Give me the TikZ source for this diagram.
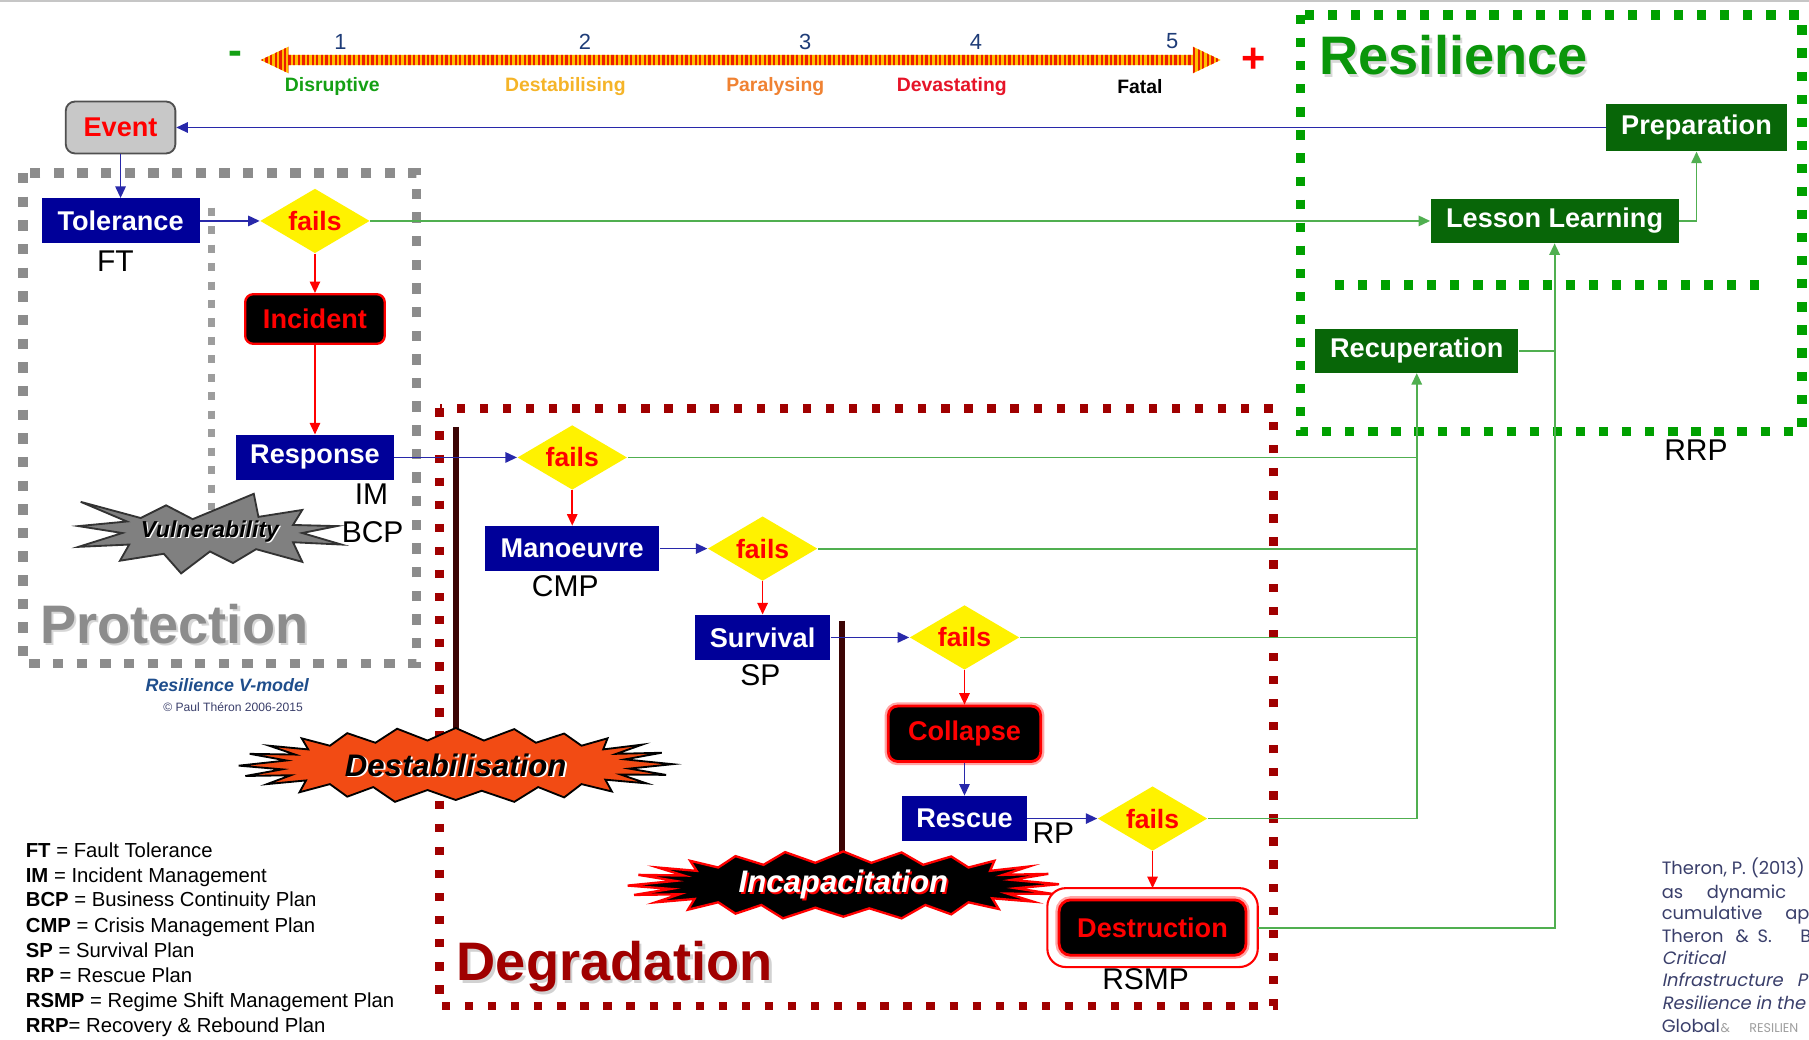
\documentclass[tikz,border=0pt]{standalone}
\usepackage{fontspec}
\setmainfont{Liberation Sans}
\newfontfamily\citefont{Poppins}
\newfontfamily\citefontit{Poppins}[FakeSlant=0.2]
\usetikzlibrary{arrows.meta,shapes.geometric}

\definecolor{boxblue}{RGB}{0,0,153}
\definecolor{boxgreen}{RGB}{8,102,8}
\definecolor{linegreen}{RGB}{80,175,80}
\definecolor{lineblue}{RGB}{40,40,170}
\definecolor{resgreen}{RGB}{0,160,0}
\definecolor{restitle}{RGB}{10,150,10}
\definecolor{degred}{RGB}{160,0,0}
\definecolor{protgray}{RGB}{140,140,140}
\definecolor{barmaroon}{RGB}{60,5,5}
\definecolor{burstorange}{RGB}{242,75,20}
\definecolor{burstgray}{RGB}{128,128,128}
\definecolor{evgray}{RGB}{200,200,200}
\definecolor{evedge}{RGB}{80,80,80}
\definecolor{numblue}{RGB}{30,60,120}
\definecolor{sevgreen}{RGB}{20,160,20}
\definecolor{sevyellow}{RGB}{245,180,40}
\definecolor{sevorange}{RGB}{240,130,50}
\definecolor{sevred}{RGB}{230,20,40}
\definecolor{stripeyellow}{RGB}{255,190,0}
\definecolor{stripered}{RGB}{235,30,0}
\definecolor{citeblue}{RGB}{58,63,107}
\definecolor{vmodel}{RGB}{31,78,140}

\newcommand\bxf{\fontsize{11.75}{14}\selectfont\bfseries}

\tikzset{
  bluebox/.style={fill=boxblue, text=white, font=\bxf, minimum height=19.5pt, inner sep=0pt},
  greenbox/.style={fill=boxgreen, text=white, font=\bxf, minimum height=19pt, inner sep=0pt},
  evbox/.style={fill=evgray, draw=evedge, line width=0.8pt, rounded corners=4pt, text=red,
    font=\bxf, minimum width=47.5pt, minimum height=22.5pt, inner sep=0pt},
  incbox/.style={fill=black, draw=red, line width=1pt, rounded corners=3.5pt, text=red,
    font=\bxf, minimum width=60.5pt, minimum height=21.5pt, inner sep=0pt},
  collbox/.style={fill=black, draw=red, line width=1.2pt, rounded corners=4pt, text=red,
    font=\bxf, minimum width=66pt, minimum height=24pt, inner sep=0pt,
    preaction={draw=red!35, line width=3.2pt}},
  destbox/.style={fill=black, draw=red, line width=1.2pt, rounded corners=5pt, text=red,
    font=\bxf, minimum width=81pt, minimum height=24pt, inner sep=0pt,
    preaction={draw=red!35, line width=3.2pt}},
  failsd/.style={diamond, aspect=1.7, fill=yellow, text=red,
    font=\fontsize{11.5}{13}\selectfont\bfseries, minimum width=47.5pt, minimum height=28pt, inner sep=0pt},
  plan/.style={font=\fontsize{13}{15}\selectfont, inner sep=0pt},
  ttl/.style={font=\fontsize{23.5}{28}\selectfont\bfseries, inner sep=0pt},
  sevlbl/.style={font=\fontsize{8.4}{10}\selectfont\bfseries, inner sep=0pt},
  numlbl/.style={font=\fontsize{9.5}{11}\selectfont, text=numblue, inner sep=0pt},
  legend/.style={font=\fontsize{8.8}{10}\selectfont, anchor=base west, inner sep=0pt},
  cite/.style={font=\citefont\fontsize{7.75}{9}\selectfont, text=citeblue, anchor=base west, inner sep=0pt},
  citeit/.style={font=\citefontit\fontsize{7.75}{9}\selectfont, text=citeblue, anchor=base west, inner sep=0pt},
  bursttext/.style={font=\fontsize{13.5}{16}\selectfont\bfseries\itshape, inner sep=0pt},
  tip/.style={-{Triangle[length=5pt,width=4.5pt]}},
  barrow/.style={draw=lineblue, line width=0.7pt, tip},
  rarrow/.style={draw=red, line width=0.7pt, tip},
  garrow/.style={draw=linegreen, line width=0.8pt, tip},
  gline/.style={draw=linegreen, line width=0.8pt},
  protdash/.style={draw=protgray, line width=4pt, dash pattern=on 4.5pt off 5.75pt},
  protinner/.style={draw=protgray!85, line width=3pt, dash pattern=on 3.5pt off 4.5pt},
  resdash/.style={draw=resgreen, line width=4pt, dash pattern=on 4pt off 6pt},
  degdash/.style={draw=degred, line width=3.8pt, dash pattern=on 3.6pt off 6.4pt},
  barline/.style={draw=barmaroon, line width=2.5pt},
  burstwide/.pic={
    \path[pic actions] (0,-1) -- (0.13,-0.66) -- (0.27,-0.97) -- (0.37,-0.6) -- (0.5,-0.85)
      -- (0.58,-0.52) -- (0.7,-0.72) -- (0.68,-0.42) -- (0.86,-0.55) -- (0.74,-0.3)
      -- (0.95,-0.33) -- (0.78,-0.15) -- (1,-0.02) -- (0.8,0.1) -- (0.97,0.27) -- (0.76,0.26)
      -- (0.88,0.5) -- (0.69,0.4) -- (0.72,0.72) -- (0.58,0.52) -- (0.5,0.88) -- (0.38,0.6)
      -- (0.27,1) -- (0.12,0.7) -- (0,0.95) -- (-0.13,0.68) -- (-0.28,1) -- (-0.38,0.6)
      -- (-0.5,0.86) -- (-0.58,0.52) -- (-0.72,0.74) -- (-0.69,0.42) -- (-0.87,0.52)
      -- (-0.76,0.28) -- (-0.97,0.3) -- (-0.8,0.12) -- (-1,0.02) -- (-0.78,-0.12)
      -- (-0.95,-0.3) -- (-0.74,-0.28) -- (-0.86,-0.52) -- (-0.68,-0.42) -- (-0.71,-0.72)
      -- (-0.58,-0.52) -- (-0.5,-0.86) -- (-0.37,-0.6) -- (-0.27,-0.98) -- (-0.13,-0.66) -- cycle;
  },
  burstsmall/.pic={
    \path[pic actions] (-112,-27) -- (-60,-13) -- (-38,-24) -- (-15,-12) -- (38,-34) -- (42,-14)
      -- (80,-20) -- (72,-7) -- (110,-6) -- (80,0) -- (114,10) -- (72,8) -- (80,25) -- (40,14)
      -- (20,26) -- (0,16) -- (-25,35) -- (-40,18) -- (-78,24) -- (-70,10) -- (-114,12)
      -- (-76,0) -- (-114,-6) -- (-72,-10) -- cycle;
  }
}

\begin{document}
\begin{tikzpicture}[x=0.5pt,y=-0.5pt]
\useasboundingbox (0,0) rectangle (1568,901);
\fill[white] (0,0) rectangle (1568,901);
\draw[gray!45, line width=1pt] (0,0.8) -- (1568,0.8);

% ---------- severity scale ----------
\begin{scope}
  \clip (226,52) -- (250,40.5) -- (250,47.5) -- (1034,47.5) -- (1034,40.5) -- (1058,52)
        -- (1034,63.5) -- (1034,56.5) -- (250,56.5) -- (250,63.5) -- cycle;
  \fill[stripeyellow] (220,35) rectangle (1065,70);
  \foreach \xx in {227,231,...,1059} \draw[stripered, line width=1pt] (\xx,35) -- (\xx,70);
\end{scope}
\node[font=\fontsize{18}{20}\selectfont\bfseries, text=sevgreen, inner sep=0pt] (minus) at (204,50) {-};
\node[font=\fontsize{18}{20}\selectfont\bfseries, text=red, inner sep=0pt] (plus) at (1087,52) {+};
\node[numlbl] (n1) at (295,36) {1};
\node[numlbl] (n2) at (507,36) {2};
\node[numlbl] (n3) at (698,36) {3};
\node[numlbl] (n4) at (846,36) {4};
\node[numlbl] (n5) at (1016,36) {5};
\node[sevlbl, text=sevgreen] (s1) at (288,75) {Disruptive};
\node[sevlbl, text=sevyellow] (s2) at (490,75) {Destabilising};
\node[sevlbl, text=sevorange] (s3) at (672,75) {Paralysing};
\node[sevlbl, text=sevred] (s4) at (825,75) {Devastating};
\node[sevlbl, text=black] (s5) at (988,75) {Fatal};

% ---------- zone frames ----------
\draw[protdash] (20,150) rectangle (361,575);
\draw[protinner] (183,180) -- (183,442);
\draw[resdash] (1127,13) rectangle (1562,374);
\draw[resdash] (1157,247) -- (1535,247);
\draw[degdash] (381,354) rectangle (1104,872);

\node[ttl, text=protgray!35] (protsh) at (153,543) {Protection};
\node[ttl, text=protgray] (prot) at (151,541) {Protection};
\node[ttl, text=gray!30] (ressh) at (1262,50) {Resilience};
\node[ttl, text=restitle] (res) at (1260,48) {Resilience};
\node[ttl, text=gray!35] (degsh) at (535,840) {Degradation};
\node[ttl, text=degred] (deg) at (533,838) {Degradation};

% ---------- impact bars and bursts ----------
\coordinate (bar1top) at (395,370);
\coordinate (bar2top) at (730,538);
\node[bursttext, text=black] (destab) at (395,663) {\phantom{Destabilisation}};
\node[bursttext, text=black] (incap) at (731,767) {\phantom{Incapacitation}};
\draw[barline] (bar1top) -- (bar1top |- destab.center);
\draw[barline] (bar2top) -- (bar2top |- incap.center);

\pic[xscale=188, yscale=32, fill=burstorange, draw=black, line width=0.8pt] at (destab.center) {burstwide};
\pic[xscale=187, yscale=29, fill=black, draw=red, line width=1pt] at (incap.center) {burstwide};
\pic[fill=burstgray, draw=black!80, line width=0.8pt] at (182,462) {burstsmall};

\node[bursttext, text=white] (destabsh) at ([shift={(0.8pt,-0.8pt)}]destab.center) {Destabilisation};
\node[bursttext, text=black] (destabtxt) at (destab.center) {Destabilisation};
\node[bursttext, text=red] (incapsh) at ([shift={(0.8pt,-0.8pt)}]incap.center) {Incapacitation};
\node[bursttext, text=white] (incaptxt) at (incap.center) {Incapacitation};
\node[font=\fontsize{10}{12}\selectfont\bfseries\itshape, text=white, inner sep=0pt] (vulnsh) at (183,462) {Vulnerability};
\node[font=\fontsize{10}{12}\selectfont\bfseries\itshape, text=black, inner sep=0pt] (vuln) at (182,461) {Vulnerability};

% ---------- process nodes ----------
\node[evbox] (event) at (104.5,110.5) {Event};
\node[bluebox, minimum width=68.5pt] (tol) at (104.5,191.5) {Tolerance};
\node[failsd] (f1) at (273,191.5) {fails};
\node[incbox] (inc) at (273,276.5) {Incident};
\node[bluebox, minimum width=68.5pt] (resp) at (273,396.5) {Response};
\node[failsd] (f2) at (496,396.5) {fails};
\node[bluebox, minimum width=75.5pt] (man) at (496,475.5) {Manoeuvre};
\node[failsd] (f3) at (661,475.5) {fails};
\node[bluebox, minimum width=58.5pt] (surv) at (661,552.5) {Survival};
\node[failsd] (f4) at (836,552.5) {fails};
\node[collbox] (coll) at (836,636) {Collapse};
\node[bluebox, minimum width=54pt] (resc) at (836,709.5) {Rescue};
\node[failsd] (f5) at (999,709.5) {fails};
\node[destbox] (dest) at (999,804) {Destruction};
\draw[red, line width=0.9pt, rounded corners=8pt]
  ([shift={(-4.5pt,4.5pt)}]dest.north west) rectangle ([shift={(4.5pt,-4.5pt)}]dest.south east);
\node[greenbox, minimum width=88pt] (recup) at (1228,304) {Recuperation};
\node[greenbox, minimum width=107.5pt] (ll) at (1347.5,191.5) {Lesson Learning};
\node[greenbox, minimum width=78.5pt, minimum height=20.5pt] (prep) at (1470.5,110.5) {Preparation};

% ---------- plan labels ----------
\node[plan] (ft) at (100,226) {FT};
\node[plan] (im) at (322,428) {IM};
\node[plan] (bcp) at (323,461) {BCP};
\node[plan] (cmp) at (490,508) {CMP};
\node[plan] (sp) at (659,585) {SP};
\node[plan] (rp) at (913,722) {RP};
\node[plan] (rsmp) at (993,849) {RSMP};
\node[plan] (rrp) at (1470,390) {RRP};

% ---------- connectors ----------
\draw[barrow] (prep.west) -- (event.east);
\draw[barrow] (event.south) -- (tol.north);
\draw[barrow] (tol.east) -- (f1.west);
\draw[garrow] (f1.east) -- (ll.west);
\draw[rarrow] (f1.south) -- (inc.north);
\draw[rarrow] (inc.south) -- (resp.north);
\draw[barrow] (resp.east) -- (f2.west);
\draw[rarrow] (f2.south) -- (man.north);
\draw[barrow] (man.east) -- (f3.west);
\draw[rarrow] (f3.south) -- (surv.north);
\draw[barrow] (surv.east) -- (f4.west);
\draw[rarrow] (f4.south) -- (coll.north);
\draw[barrow] (coll.south) -- (resc.north);
\draw[barrow] (resc.east) -- (f5.west);
\draw[rarrow] (f5.south) -- ([yshift=4.5pt]dest.north);
\draw[gline] (f2.east) -- (f2.east -| recup.south);
\draw[gline] (f3.east) -- (f3.east -| recup.south);
\draw[gline] (f4.east) -- (f4.east -| recup.south);
\draw[garrow] (f5.east) -| (recup.south);
\draw[gline] (recup.east) -- (recup.east -| ll.south);
\draw[garrow] ([xshift=4.5pt]dest.east) -| (ll.south);
\draw[garrow] (ll.east) -| (prep.south);

% ---------- credits and legend ----------
\node[font=\fontsize{7.75}{9}\selectfont\bfseries\itshape, text=vmodel, inner sep=0pt] (vm) at (197,594) {Resilience V-model};
\node[font=\fontsize{5.25}{6}\selectfont, text=citeblue, inner sep=0pt] (copy) at (202,613) {\textcopyright\ Paul Théron 2006-2015};

\node[legend] (lg1) at (22,743) {\textbf{FT} = Fault Tolerance};
\node[legend] (lg2) at (22,765) {\textbf{IM} = Incident Management};
\node[legend] (lg3) at (22,786) {\textbf{BCP} = Business Continuity Plan};
\node[legend] (lg4) at (22,808) {\textbf{CMP} = Crisis Management Plan};
\node[legend] (lg5) at (22,830) {\textbf{SP} = Survival Plan};
\node[legend] (lg6) at (22,852) {\textbf{RP} = Rescue Plan};
\node[legend] (lg7) at (22,873) {\textbf{RSMP} = Regime Shift Management Plan};
\node[legend] (lg8) at (22,895) {\textbf{RRP}= Recovery \& Rebound Plan};

\begin{scope}
  \clip (0,0) rectangle (1568,901);
  \node[cite] (c1) at (1440,758) {Theron, P. (2013)};
  \node[cite] (c2a) at (1440,779) {as};
  \node[cite] (c2b) at (1479,779) {dynamic};
  \node[cite] (c3a) at (1440,797) {cumulative};
  \node[cite] (c3b) at (1547,797) {ap};
  \node[cite] (c4a) at (1440,817) {Theron};
  \node[cite] (c4b) at (1504,817) {\&};
  \node[cite] (c4c) at (1523,817) {S.};
  \node[cite] (c4d) at (1560,817) {B};
  \node[citeit] (c5) at (1440,836) {Critical};
  \node[citeit] (c6a) at (1440,855) {Infrastructure};
  \node[citeit] (c6b) at (1557,855) {P};
  \node[citeit] (c7) at (1440,875) {Resilience in the};
  \node[cite] (c8a) at (1440,895) {Global};
  \node[cite, text=gray!75, font=\citefont\fontsize{5.5}{7}\selectfont] (c8b) at (1491,895) {\&};
  \node[cite, text=gray!75, font=\citefont\fontsize{5.5}{7}\selectfont] (c8c) at (1516,895) {RESILIEN};
\end{scope}
\end{tikzpicture}
\end{document}
